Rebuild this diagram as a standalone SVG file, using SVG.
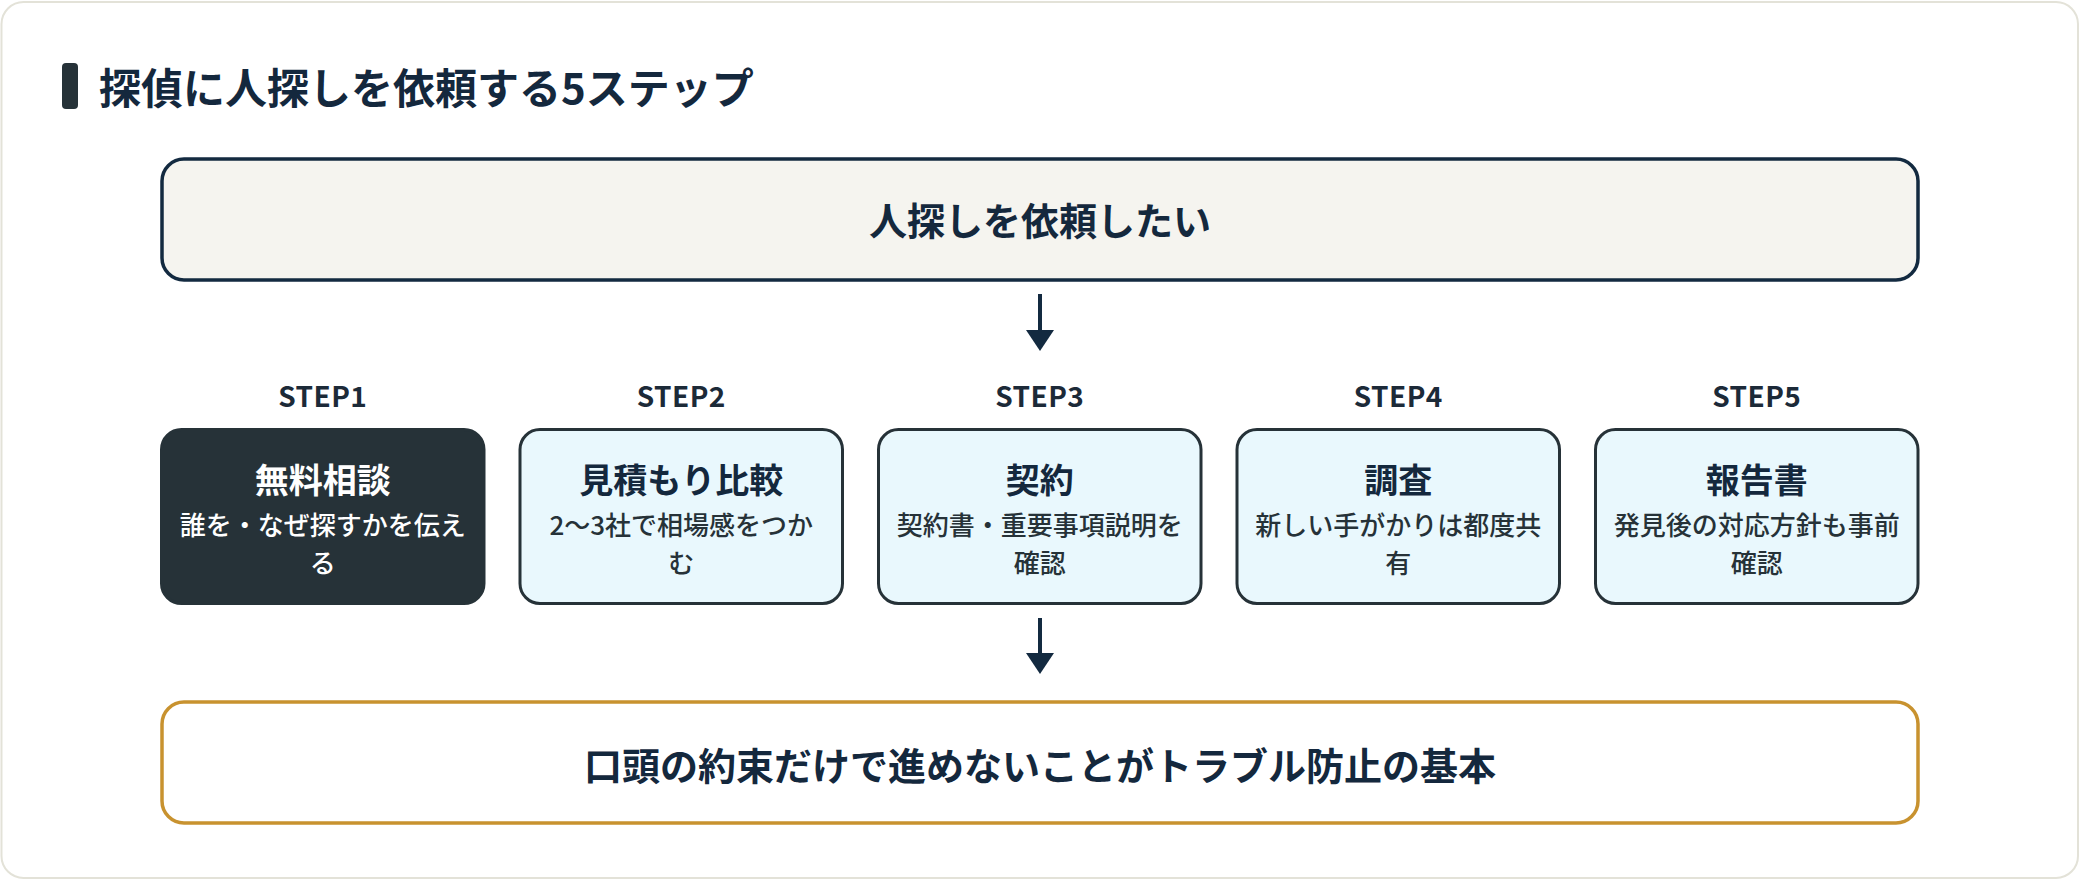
<svg xmlns="http://www.w3.org/2000/svg" width="2080" height="880" viewBox="0 0 2080 880">
<defs>
<style>
text{font-family:"Noto Sans CJK JP","Noto Sans",sans-serif;text-anchor:middle}
.title{font-size:42px;font-weight:700;fill:#14283d;text-anchor:start}
.big{font-size:38px;font-weight:700;fill:#14283d}
.step{font-size:28px;font-weight:700;fill:#1c2a38;letter-spacing:0.5px}
.box{fill:#e9f8fd;stroke:#263238;stroke-width:3}
.box.dark{fill:#263238}
.h{font-size:34px;font-weight:700;fill:#14283d}
.s{font-size:26px;font-weight:500;fill:#263238}
.dark-t .h,.dark-t .s{fill:#ffffff}
.arrow line{stroke:#132a40;stroke-width:4}
.arrow polygon{fill:#132a40}
</style>
</defs>
<rect x="1.5" y="2" width="2076.5" height="876" rx="22" fill="#ffffff" stroke="#e3e2d8" stroke-width="2"/>
<g id="heading">
<rect x="62" y="63" width="16" height="46" rx="4" fill="#263238"/>
<text class="title" x="99" y="104">探偵に人探しを依頼する5ステップ</text>
</g>
<g id="start">
<rect x="162" y="159" width="1756" height="121" rx="22" fill="#f5f4ef" stroke="#132a40" stroke-width="3.5"/>
<text class="big" x="1040" y="235">人探しを依頼したい</text>
</g>
<g id="connectors" class="arrow">
<line x1="1040" y1="294" x2="1040" y2="332"/>
<polygon points="1026,330 1054,330 1040,351"/>
<line x1="1040" y1="618" x2="1040" y2="655"/>
<polygon points="1026,653 1054,653 1040,674"/>
</g>
<g id="step1" class="dark-t">
<text class="step" x="322.75" y="407">STEP1</text>
<rect class="box dark" x="161.5" y="429.5" width="322.5" height="174" rx="20"/>
<text class="h" x="322.75" y="493">無料相談</text>
<text class="s" x="322.75" y="535">誰を・なぜ探すかを伝え</text>
<text class="s" x="322.75" y="573">る</text>
</g>
<g id="step2">
<text class="step" x="681.25" y="407">STEP2</text>
<rect class="box" x="520" y="429.5" width="322.5" height="174" rx="20"/>
<text class="h" x="681.25" y="493">見積もり比較</text>
<text class="s" x="681.25" y="535">2〜3社で相場感をつか</text>
<text class="s" x="681.25" y="573">む</text>
</g>
<g id="step3">
<text class="step" x="1039.75" y="407">STEP3</text>
<rect class="box" x="878.5" y="429.5" width="322.5" height="174" rx="20"/>
<text class="h" x="1039.75" y="493">契約</text>
<text class="s" x="1039.75" y="535">契約書・重要事項説明を</text>
<text class="s" x="1039.75" y="573">確認</text>
</g>
<g id="step4">
<text class="step" x="1398.25" y="407">STEP4</text>
<rect class="box" x="1237" y="429.5" width="322.5" height="174" rx="20"/>
<text class="h" x="1398.25" y="493">調査</text>
<text class="s" x="1398.25" y="535">新しい手がかりは都度共</text>
<text class="s" x="1398.25" y="573">有</text>
</g>
<g id="step5">
<text class="step" x="1756.75" y="407">STEP5</text>
<rect class="box" x="1595.5" y="429.5" width="322.5" height="174" rx="20"/>
<text class="h" x="1756.75" y="493">報告書</text>
<text class="s" x="1756.75" y="535">発見後の対応方針も事前</text>
<text class="s" x="1756.75" y="573">確認</text>
</g>
<g id="conclusion">
<rect x="162" y="702" width="1756" height="121" rx="22" fill="#ffffff" stroke="#c8922f" stroke-width="3.5"/>
<text class="big" x="1040" y="780">口頭の約束だけで進めないことがトラブル防止の基本</text>
</g>
</svg>
